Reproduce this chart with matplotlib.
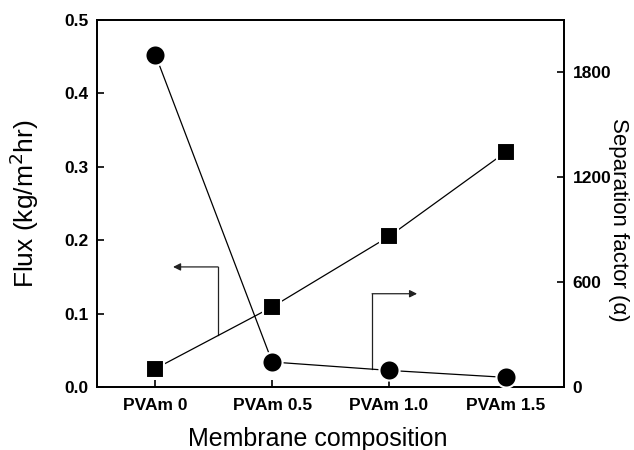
import matplotlib
matplotlib.use('Agg')
import matplotlib.pyplot as plt
import numpy as np

plt.rcParams['font.family'] = ['Liberation Sans', 'DejaVu Sans']

# data
membranes = ['PVAm 0', 'PVAm 0.5', 'PVAm 1.0', 'PVAm 1.5']
flux = [0.025, 0.109, 0.205, 0.320]          # kg/m2hr, left axis
sep_factor = [1900, 143, 95, 55]             # alpha, right axis
left_ticks = [0.0, 0.1, 0.2, 0.3, 0.4, 0.5]
right_ticks = [0, 600, 1200, 1800]

# arrow pointers (left-axis data coords)
left_arrow = [(0.536, 0.071), (0.536, 0.1635), (0.151, 0.1635)]
right_arrow = [(1.855, 0.0245), (1.855, 0.127), (2.24, 0.127)]

x = np.arange(len(membranes))

fig = plt.figure(figsize=(6.34, 4.5), dpi=100)
ax1 = fig.add_axes([0.153, 0.14, 0.737, 0.816])
ax2 = ax1.twinx()

ax1.plot(x, flux, color='black', lw=0.9, marker='s', ms=12.5,
         mfc='black', mec='white', mew=1.5, zorder=3)
ax2.plot(x, sep_factor, color='black', lw=0.9, marker='o', ms=14.5,
         mfc='black', mec='white', mew=1.5, zorder=3)

for pts in (left_arrow, right_arrow):
    (x0, y0), (x1, y1), (x2, y2) = pts
    ax1.plot([x0, x1], [y0, y1], color='#222222', lw=0.9)
    ax1.annotate('', xy=(x2, y2), xytext=(x1, y1),
                 arrowprops=dict(arrowstyle='-|>', color='#222222', lw=0.9,
                                 mutation_scale=11, shrinkA=0, shrinkB=0))

ax1.set_xlim(-0.5, 3.5)
ax1.set_ylim(0, 0.5)
ax2.set_ylim(0, 2100)
ax1.set_xticks(x)
ax1.set_xticklabels(membranes)
ax1.set_yticks(left_ticks)
ax1.set_yticklabels(['%.1f' % v for v in left_ticks])
ax2.set_yticks(right_ticks)

for ax in (ax1, ax2):
    for sp in ax.spines.values():
        sp.set_linewidth(1.3)
    ax.tick_params(direction='in', length=5, width=1.2, labelsize=12.5, pad=6)
    for lab in ax.get_xticklabels() + ax.get_yticklabels():
        lab.set_fontweight('bold')

ax1.tick_params(axis='x', pad=8)
ax1.set_xlabel('Membrane composition', fontsize=18)
ax1.xaxis.set_label_coords(0.473, -0.11)
ax1.set_ylabel('Flux (kg/m$^2$hr)', fontsize=19, labelpad=17)
ax2.set_ylabel('Separation factor (\u03b1)', fontsize=16, rotation=270,
               va='center', ha='center')
ax2.yaxis.set_label_coords(1.117, 0.455)

fig.savefig('out.png', dpi=100)
